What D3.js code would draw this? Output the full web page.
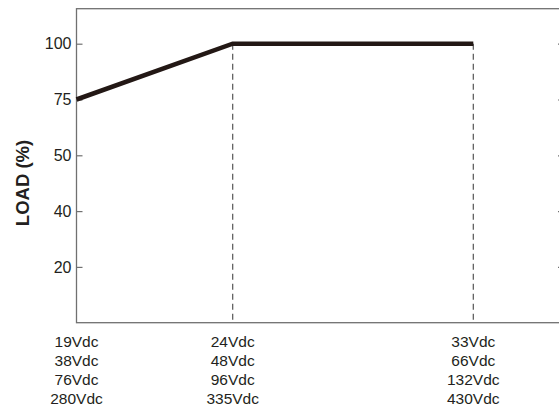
<html>
<head>
<script src="https://d3js.org/d3.v7.min.js"></script>
<style>
  body { margin: 0; background: #fff; }
  text { font-family: "Liberation Sans", Arial, sans-serif; fill: #231f20; }
</style>
</head>
<body>
<script>

// data
var loadTicks = [20, 40, 50, 75, 100];
var voltRow1 = [19, 24, 33];
var voltLabels = [
  ["19Vdc", "38Vdc", "76Vdc", "280Vdc"],
  ["24Vdc", "48Vdc", "96Vdc", "335Vdc"],
  ["33Vdc", "66Vdc", "132Vdc", "430Vdc"]
];
var curveVolt = [19, 24, 33];
var curveLoad = [75, 100, 100];
var markVolt = [24, 33];

var margin = {top: 8.7, left: 76.5},
    width = 487.5,
    height = 314;

var svg = d3.select("body").append("svg")
            .attr("width", 559)
            .attr("height", 409)
            .append("g")
            .attr("transform", "translate(" + margin.left + "," + margin.top + ")");

// y levels are evenly spaced although the values are not
var levels = [0].concat(loadTicks);
var step = 55.8;
var y = d3.scaleLinear()
          .domain(levels)
          .range(levels.map(function(d, i) { return height - i * step; }));

// x positions are not linear in volts either
var x = d3.scaleLinear()
          .domain(voltRow1)
          .range([0, 156.2, 396.8]);

// frame
svg.append("rect")
   .attr("x", 0).attr("y", 0)
   .attr("width", width).attr("height", height)
   .attr("fill", "none")
   .attr("stroke", "#707070")
   .attr("stroke-width", 1.3);

var yAxis = svg.append("g")
   .call(d3.axisLeft(y).tickValues(loadTicks).tickSize(-6).tickPadding(5));
yAxis.select(".domain").remove();
yAxis.selectAll("line").attr("stroke", "#707070").attr("stroke-width", 1.2);
yAxis.selectAll("text")
     .style("font-size", "16px")
     .style("font-family", "Liberation Sans, Arial, sans-serif")
     .attr("fill", "#231f20");

var yRight = svg.append("g")
   .attr("transform", "translate(" + width + ",0)")
   .call(d3.axisRight(y).tickValues(loadTicks).tickSize(-6).tickFormat(""));
yRight.select(".domain").remove();
yRight.selectAll("line").attr("stroke", "#707070").attr("stroke-width", 1.2);

// dashed guides
svg.selectAll(".guide")
   .data(markVolt)
   .enter().append("line")
   .attr("class", "guide")
   .attr("x1", function(d) { return x(d); })
   .attr("x2", function(d) { return x(d); })
   .attr("y1", y(100))
   .attr("y2", y(0))
   .attr("stroke", "#555")
   .attr("stroke-width", 1.2)
   .attr("stroke-dasharray", "6,4");

// derating curve
var pts = curveVolt.map(function(v, i) { return [v, curveLoad[i]]; });
svg.append("path")
   .datum(pts)
   .attr("d", d3.line().x(function(d) { return x(d[0]); }).y(function(d) { return y(d[1]); }))
   .attr("fill", "none")
   .attr("stroke", "#231815")
   .attr("stroke-width", 4.6);

// multi-line x labels
var xl = svg.selectAll(".xlab")
   .data(voltRow1)
   .enter().append("text")
   .attr("class", "xlab")
   .attr("text-anchor", "middle")
   .style("font-size", "15.5px");
xl.selectAll("tspan")
  .data(function(d, i) { return voltLabels[i].map(function(s) { return {v: d, s: s}; }); })
  .enter().append("tspan")
  .attr("x", function(d) { return x(d.v); })
  .attr("y", function(d, j) { return height + 24 + j * 19.2; })
  .text(function(d) { return d.s; });

svg.append("text")
   .attr("transform", "translate(" + (29 - margin.left) + "," + (183 - margin.top) + ") rotate(-90)")
   .attr("text-anchor", "middle")
   .style("font-size", "18.5px")
   .style("font-weight", "bold")
   .text("LOAD (%)");

</script>
</body>
</html>
